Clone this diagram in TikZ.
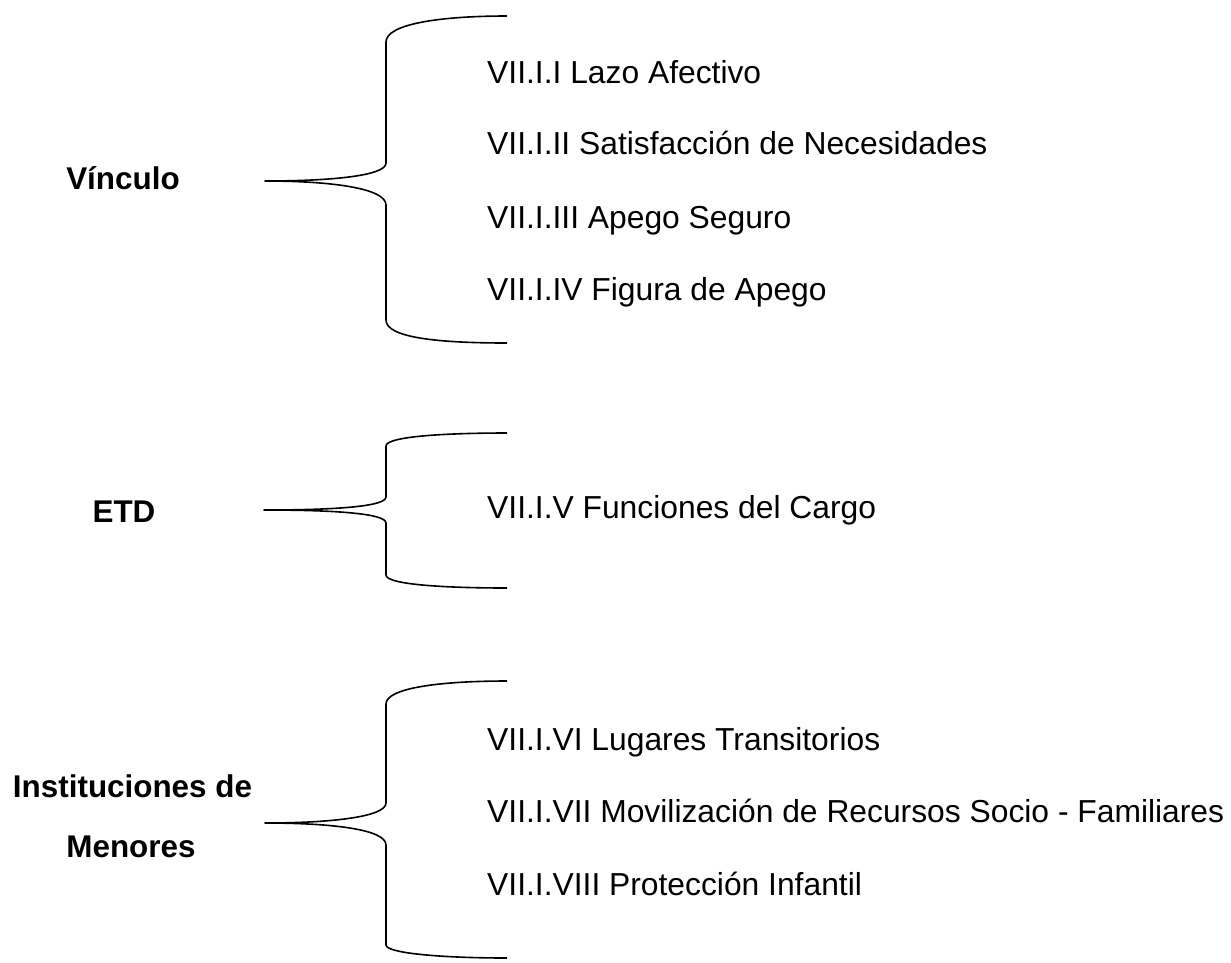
\documentclass[tikz,border=0pt]{standalone}
\usepackage{fontspec}
\setmainfont{Liberation Sans}
\begin{document}
\begin{tikzpicture}[x=1pt,y=-1pt,
  itemtext/.style={anchor=base west,inner sep=0pt,font=\fontsize{31.8}{32}\selectfont},
  labeltext/.style={anchor=base,inner sep=0pt,font=\bfseries\fontsize{31.4}{32}\selectfont},
  bracepath/.style={line width=1.6pt,black,line join=round}]
\useasboundingbox (0,0) rectangle (1231,962);

% Brace 1
\draw[bracepath] (507,16) .. controls (440,16) and (386,24) .. (386,42)
  -- (386,163) .. controls (386,176) and (330,181) .. (265,181)
  .. controls (330,181) and (386,188) .. (386,205)
  -- (386,320) .. controls (386,338) and (440,343) .. (507,343);
% Brace 2
\draw[bracepath] (507,433) .. controls (450,433) and (386,436) .. (386,446)
  -- (386,497) .. controls (386,507) and (330,510) .. (264,510)
  .. controls (330,510) and (386,513) .. (386,523)
  -- (386,575) .. controls (386,585) and (450,588) .. (507,588);
% Brace 3
\draw[bracepath] (507,681) .. controls (440,681) and (386,688) .. (386,704)
  -- (386,803) .. controls (386,817) and (330,823) .. (265,823)
  .. controls (330,823) and (386,829) .. (386,845)
  -- (386,945) .. controls (386,953) and (440,958) .. (507,958);

% Labels
\node[labeltext] (vinculo) at (123,189) {Vínculo};
\node[labeltext] (etd) at (124,522) {ETD};
\node[labeltext] (inst1) at (132.5,797) {Instituciones de};
\node[labeltext] (inst2) at (131,857) {Menores};

% Items
\node[itemtext] (i1) at (487,83) {VII.I.I Lazo Afectivo};
\node[itemtext] (i2) at (487,154) {VII.I.II Satisfacción de Necesidades};
\node[itemtext] (i3) at (487,228) {VII.I.III Apego Seguro};
\node[itemtext] (i4) at (487,300) {VII.I.IV Figura de Apego};
\node[itemtext] (i5) at (487,518) {VII.I.V Funciones del Cargo};
\node[itemtext] (i6) at (487,750) {VII.I.VI Lugares Transitorios};
\node[itemtext] (i7) at (487,822) {VII.I.VII Movilización de Recursos Socio - Familiares};
\node[itemtext] (i8) at (487,895) {VII.I.VIII Protección Infantil};
\end{tikzpicture}
\end{document}
